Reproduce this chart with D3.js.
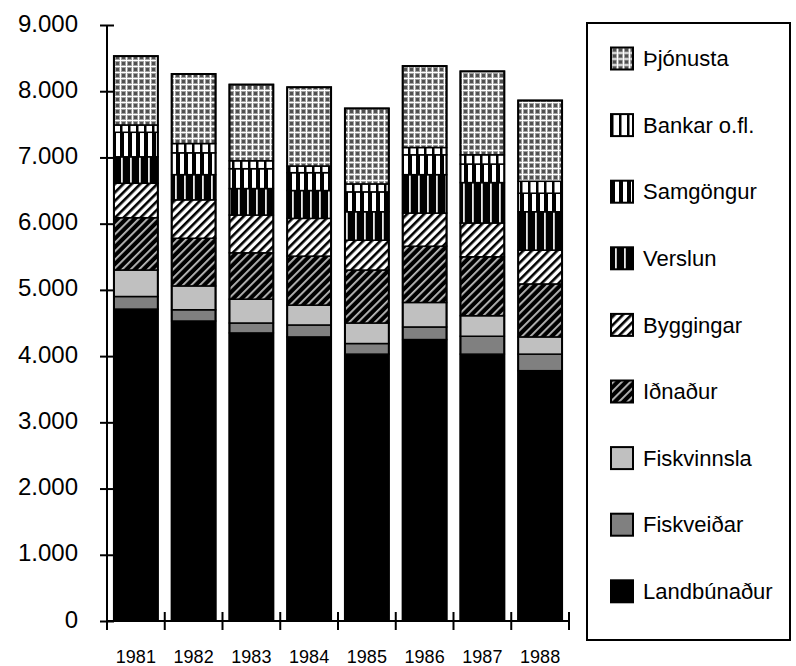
<!DOCTYPE html>
<html>
<head>
<meta charset="utf-8">
<script src="https://cdn.jsdelivr.net/npm/d3@7"></script>
<style>
  body { margin: 0; background: #fff; }
  #chart { width: 796px; height: 666px; }
  text { font-family: "Liberation Sans", Arial, sans-serif; fill: #000; }
</style>
</head>
<body>
<div id="chart"></div>
<script>
// data
const years = ["1981", "1982", "1983", "1984", "1985", "1986", "1987", "1988"];
const sectors = ["Landbúnaður", "Fiskveiðar", "Fiskvinnsla", "Iðnaður", "Byggingar",
                 "Verslun", "Samgöngur", "Bankar o.fl.", "Þjónusta"];
const landbunadur = [4710, 4530, 4350, 4290, 4030, 4250, 4030, 3780];
const fiskveidar  = [190, 170, 150, 180, 160, 190, 270, 250];
const fiskvinnsla = [400, 360, 360, 300, 310, 370, 310, 260];
const idnadur     = [790, 720, 700, 740, 800, 850, 890, 800];
const byggingar   = [520, 580, 570, 570, 450, 500, 510, 510];
const verslun     = [400, 380, 400, 420, 430, 580, 610, 580];
const samgongur   = [370, 330, 300, 270, 300, 300, 280, 280];
const bankar      = [110, 140, 120, 100, 120, 110, 140, 180];
const thjonusta   = [1040, 1050, 1150, 1190, 1140, 1230, 1260, 1220];
const yTicks = [0, 1000, 2000, 3000, 4000, 5000, 6000, 7000, 8000, 9000];

const seriesValues = [landbunadur, fiskveidar, fiskvinnsla, idnadur, byggingar,
                      verslun, samgongur, bankar, thjonusta];

const rows = years.map(function (yr, i) {
    const r = { year: yr };
    sectors.forEach(function (s, k) { r[s] = seriesValues[k][i]; });
    return r;
});

/*
SVG CANVAS
*/
const width = 796, height = 666;
const margin = { top: 25, left: 107, right: 227, bottom: 45 };

const svg = d3.select("#chart").append("svg")
    .attr("width", width)
    .attr("height", height);

/*
PATTERNS
*/
const defs = svg.append("defs");

// Þjónusta: grey dotted cross pattern
let p = defs.append("pattern").attr("id", "p-thjon")
    .attr("patternUnits", "userSpaceOnUse").attr("width", 6).attr("height", 6);
p.append("rect").attr("width", 6).attr("height", 6).attr("fill", "#a0a0a0");
p.append("rect").attr("x", 2).attr("y", 2).attr("width", 3).attr("height", 3).attr("fill", "#505050");
p.append("rect").attr("x", 0).attr("y", 0).attr("width", 6).attr("height", 1).attr("fill", "#ffffff");
p.append("rect").attr("x", 0).attr("y", 0).attr("width", 1).attr("height", 6).attr("fill", "#ffffff");

// Bankar: white with thin black vertical lines
p = defs.append("pattern").attr("id", "p-bank")
    .attr("patternUnits", "userSpaceOnUse").attr("width", 8).attr("height", 8);
p.append("rect").attr("width", 8).attr("height", 8).attr("fill", "#fff");
p.append("rect").attr("x", 0).attr("width", 2.5).attr("height", 8).attr("fill", "#000");

// Samgöngur: black / white vertical stripes
p = defs.append("pattern").attr("id", "p-samg")
    .attr("patternUnits", "userSpaceOnUse").attr("width", 8).attr("height", 8);
p.append("rect").attr("width", 8).attr("height", 8).attr("fill", "#fff");
p.append("rect").attr("x", 0).attr("width", 4).attr("height", 8).attr("fill", "#000");

// Verslun: black with thin white lines
p = defs.append("pattern").attr("id", "p-versl")
    .attr("patternUnits", "userSpaceOnUse").attr("width", 9).attr("height", 9);
p.append("rect").attr("width", 9).attr("height", 9).attr("fill", "#000");
p.append("rect").attr("x", 4).attr("width", 1.8).attr("height", 9).attr("fill", "#e8e8e8");

// Byggingar: light diagonal stripes
p = defs.append("pattern").attr("id", "p-bygg")
    .attr("patternUnits", "userSpaceOnUse").attr("width", 6).attr("height", 6)
    .attr("patternTransform", "rotate(45)");
p.append("rect").attr("width", 6).attr("height", 6).attr("fill", "#fff");
p.append("rect").attr("x", 0).attr("width", 2.6).attr("height", 6).attr("fill", "#000");

// Iðnaður: dark diagonal stripes
p = defs.append("pattern").attr("id", "p-idn")
    .attr("patternUnits", "userSpaceOnUse").attr("width", 6).attr("height", 6)
    .attr("patternTransform", "rotate(45)");
p.append("rect").attr("width", 6).attr("height", 6).attr("fill", "#000");
p.append("rect").attr("x", 0).attr("width", 1.8).attr("height", 6).attr("fill", "#bdbdbd");

const fills = {
    "Landbúnaður": "#000000",
    "Fiskveiðar": "#808080",
    "Fiskvinnsla": "#c0c0c0",
    "Iðnaður": "url(#p-idn)",
    "Byggingar": "url(#p-bygg)",
    "Verslun": "url(#p-versl)",
    "Samgöngur": "url(#p-samg)",
    "Bankar o.fl.": "url(#p-bank)",
    "Þjónusta": "url(#p-thjon)"
};

/*
SCALES
*/
const xScale = d3.scaleBand()
    .domain(years)
    .range([margin.left, width - margin.right])
    .paddingInner(0.24)
    .paddingOuter(0.12);

const yScale = d3.scaleLinear()
    .domain([0, 9000])
    .range([height - margin.bottom, margin.top]);

const isl = d3.formatLocale({ decimal: ",", thousands: ".", grouping: [3], currency: ["", " kr."] });
const fmt = isl.format(",");

/*
BARS
*/
const stacked = d3.stack().keys(sectors)(rows);

svg.append("g").selectAll("g")
    .data(stacked)
    .join("g")
    .attr("fill", d => fills[d.key])
    .selectAll("rect")
    .data(d => d)
    .join("rect")
    .attr("x", d => xScale(d.data.year))
    .attr("width", xScale.bandwidth())
    .attr("y", d => yScale(d[1]))
    .attr("height", d => yScale(d[0]) - yScale(d[1]))
    .attr("stroke", "#000")
    .attr("stroke-width", 1.5);

// outer bar outline
svg.append("g").selectAll("rect")
    .data(stacked[stacked.length - 1])
    .join("rect")
    .attr("x", d => xScale(d.data.year))
    .attr("width", xScale.bandwidth())
    .attr("y", d => yScale(d[1]))
    .attr("height", d => yScale(0) - yScale(d[1]))
    .attr("fill", "none")
    .attr("stroke", "#000")
    .attr("stroke-width", 2);

/*
AXES
*/
const yAxis = svg.append("g")
    .attr("transform", `translate(${margin.left},0)`)
    .call(d3.axisLeft(yScale).tickValues(yTicks).tickFormat(fmt).tickSize(7).tickPadding(22));
yAxis.select(".domain").attr("stroke-width", 2).attr("d", `M0,${yScale(0)}V${yScale(9000)}`);
yAxis.selectAll(".tick line").attr("x1", 7).attr("x2", -7).attr("stroke-width", 2);
yAxis.selectAll(".tick text")
    .attr("dy", "0.25em")
    .style("font-family", "'Liberation Sans', Arial, sans-serif")
    .style("font-size", "24px");

const step = xScale.step();
const bounds = years.map(yr => xScale(yr) - step * 0.12).concat([width - margin.right]);
const xAxis = svg.append("g");
xAxis.append("line")
    .attr("x1", margin.left).attr("x2", width - margin.right)
    .attr("y1", yScale(0)).attr("y2", yScale(0))
    .attr("stroke", "#000").attr("stroke-width", 2);
xAxis.selectAll(".xt")
    .data(bounds)
    .join("line")
    .attr("x1", d => d).attr("x2", d => d)
    .attr("y1", yScale(0) - 9).attr("y2", yScale(0) + 9)
    .attr("stroke", "#000").attr("stroke-width", 2);
xAxis.selectAll("text")
    .data(years)
    .join("text")
    .attr("x", d => xScale(d) + xScale.bandwidth() / 2)
    .attr("y", yScale(0) + 42)
    .attr("text-anchor", "middle")
    .style("font-size", "18px")
    .text(d => d);

/*
LEGEND
*/
svg.append("rect")
    .attr("x", 587).attr("y", 23)
    .attr("width", 203).attr("height", 617)
    .attr("fill", "none").attr("stroke", "#000").attr("stroke-width", 2);

const legendKeys = sectors.slice().reverse();
const legend = svg.append("g").selectAll("g")
    .data(legendKeys)
    .join("g")
    .attr("transform", (d, i) => `translate(611,${58.5 + i * 66.6})`);

legend.append("rect")
    .attr("x", 0).attr("y", -11)
    .attr("width", 22).attr("height", 22)
    .attr("fill", d => fills[d])
    .attr("stroke", "#000").attr("stroke-width", 2);

legend.append("text")
    .attr("x", 32).attr("y", 0)
    .attr("dy", "0.35em")
    .style("font-size", "22px")
    .text(d => d);
</script>
</body>
</html>
